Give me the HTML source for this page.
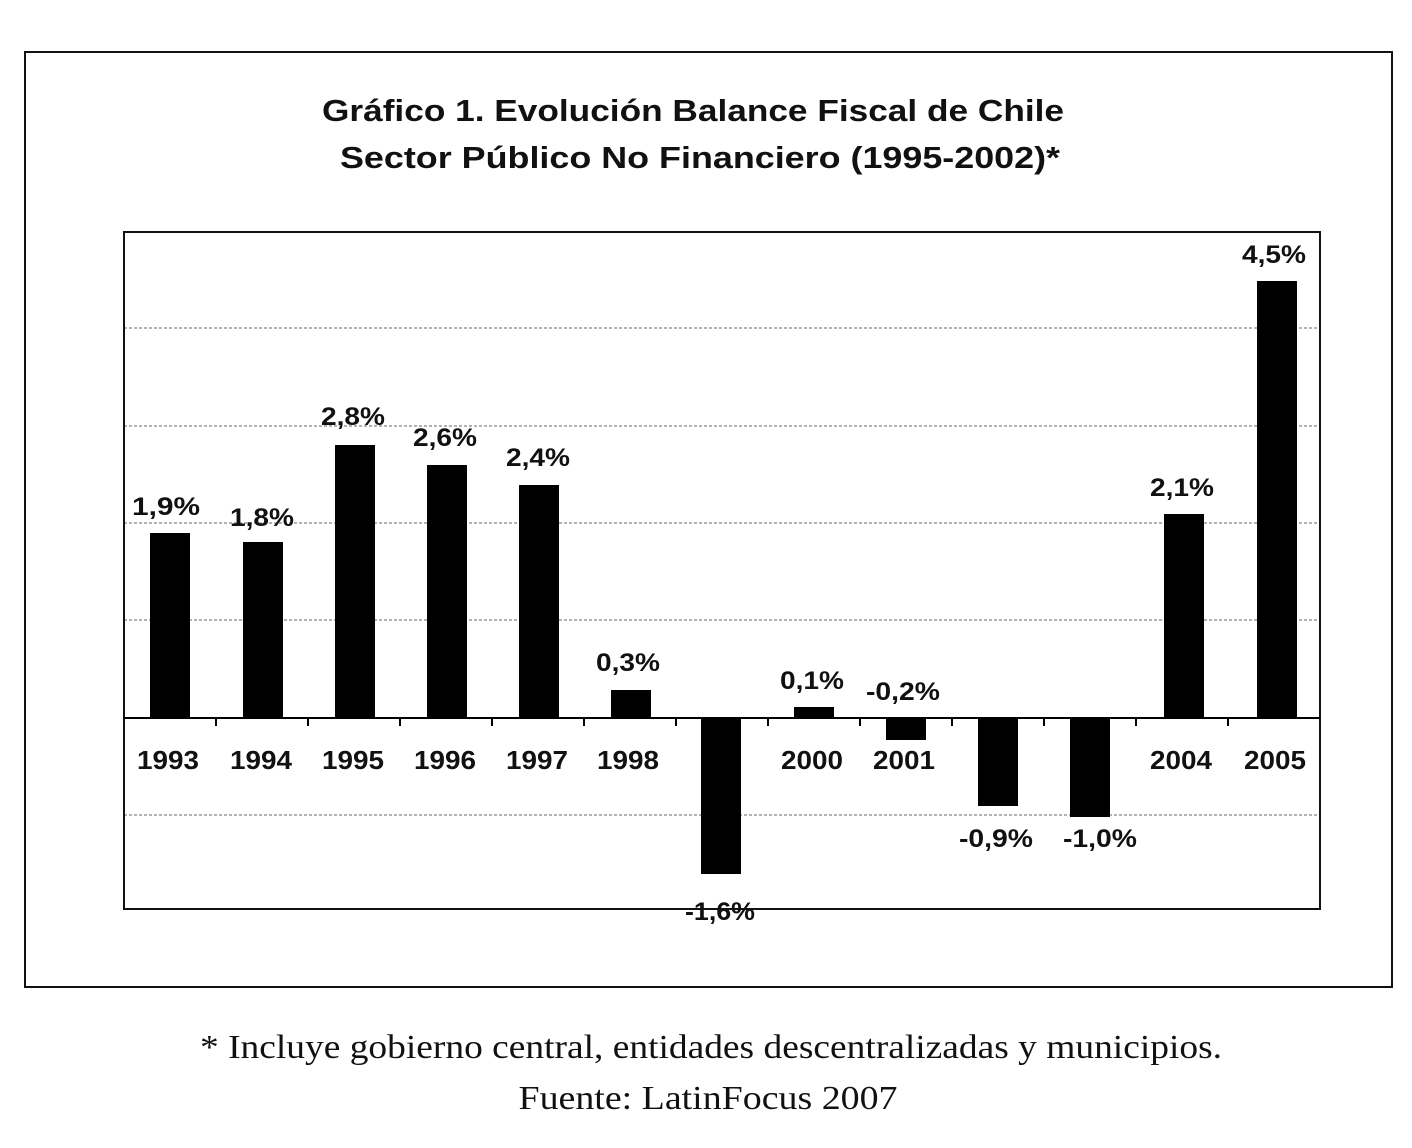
<!DOCTYPE html>
<html><head><meta charset="utf-8"><style>
html,body{margin:0;padding:0;background:#fff;}
</style></head><body>
<svg width="1412" height="1143" viewBox="0 0 1412 1143" xmlns="http://www.w3.org/2000/svg">
<rect x="0" y="0" width="1412" height="1143" fill="#fff"/>
<rect x="25" y="52" width="1367" height="935" fill="none" stroke="#111" stroke-width="2"/>
<g font-family="Liberation Sans, Arial, sans-serif" font-weight="bold" fill="#111" text-anchor="middle">
<text x="693" y="121" font-size="31" textLength="742" lengthAdjust="spacingAndGlyphs">Gráfico 1. Evolución Balance Fiscal de Chile</text>
<text x="700" y="168" font-size="31" textLength="720" lengthAdjust="spacingAndGlyphs">Sector Público No Financiero (1995-2002)*</text>
</g>
<g stroke="#666" stroke-width="1" stroke-dasharray="3,2">
<line x1="124" y1="328" x2="1320" y2="328"/>
<line x1="124" y1="426" x2="1320" y2="426"/>
<line x1="124" y1="523" x2="1320" y2="523"/>
<line x1="124" y1="620" x2="1320" y2="620"/>
<line x1="124" y1="815" x2="1320" y2="815"/>
</g>
<rect x="124" y="232" width="1196" height="677" fill="none" stroke="#111" stroke-width="2"/>
<g fill="#000">
<rect x="150" y="533" width="40" height="185"/>
<rect x="243" y="542" width="40" height="176"/>
<rect x="335" y="445" width="40" height="273"/>
<rect x="427" y="465" width="40" height="253"/>
<rect x="519" y="485" width="40" height="233"/>
<rect x="611" y="690" width="40" height="28"/>
<rect x="701" y="718" width="40" height="156"/>
<rect x="794" y="707" width="40" height="11"/>
<rect x="886" y="718" width="40" height="22"/>
<rect x="978" y="718" width="40" height="88"/>
<rect x="1070" y="718" width="40" height="99"/>
<rect x="1164" y="514" width="40" height="204"/>
<rect x="1257" y="281" width="40" height="437"/>
</g>
<line x1="124" y1="718" x2="1320" y2="718" stroke="#000" stroke-width="2"/>
<g stroke="#000" stroke-width="2">
<line x1="216" y1="718" x2="216" y2="726"/><line x1="308" y1="718" x2="308" y2="726"/>
<line x1="400" y1="718" x2="400" y2="726"/><line x1="492" y1="718" x2="492" y2="726"/>
<line x1="584" y1="718" x2="584" y2="726"/><line x1="676" y1="718" x2="676" y2="726"/>
<line x1="768" y1="718" x2="768" y2="726"/><line x1="860" y1="718" x2="860" y2="726"/>
<line x1="952" y1="718" x2="952" y2="726"/><line x1="1044" y1="718" x2="1044" y2="726"/>
<line x1="1136" y1="718" x2="1136" y2="726"/><line x1="1228" y1="718" x2="1228" y2="726"/>
</g>
<g font-family="Liberation Sans, Arial, sans-serif" font-weight="bold" fill="#111" text-anchor="middle" font-size="26">
<text x="168" y="769" textLength="62" lengthAdjust="spacingAndGlyphs">1993</text>
<text x="261" y="769" textLength="62" lengthAdjust="spacingAndGlyphs">1994</text>
<text x="353" y="769" textLength="62" lengthAdjust="spacingAndGlyphs">1995</text>
<text x="445" y="769" textLength="62" lengthAdjust="spacingAndGlyphs">1996</text>
<text x="537" y="769" textLength="62" lengthAdjust="spacingAndGlyphs">1997</text>
<text x="628" y="769" textLength="62" lengthAdjust="spacingAndGlyphs">1998</text>
<text x="812" y="769" textLength="62" lengthAdjust="spacingAndGlyphs">2000</text>
<text x="904" y="769" textLength="62" lengthAdjust="spacingAndGlyphs">2001</text>
<text x="1181" y="769" textLength="62" lengthAdjust="spacingAndGlyphs">2004</text>
<text x="1275" y="769" textLength="62" lengthAdjust="spacingAndGlyphs">2005</text>
</g>
<g font-family="Liberation Sans, Arial, sans-serif" font-weight="bold" fill="#111" text-anchor="middle" font-size="25">
<text x="166" y="515" textLength="68" lengthAdjust="spacingAndGlyphs">1,9%</text>
<text x="262" y="526" textLength="64" lengthAdjust="spacingAndGlyphs">1,8%</text>
<text x="353" y="425" textLength="64" lengthAdjust="spacingAndGlyphs">2,8%</text>
<text x="445" y="446" textLength="64" lengthAdjust="spacingAndGlyphs">2,6%</text>
<text x="538" y="466" textLength="64" lengthAdjust="spacingAndGlyphs">2,4%</text>
<text x="628" y="671" textLength="64" lengthAdjust="spacingAndGlyphs">0,3%</text>
<text x="720" y="920" textLength="70" lengthAdjust="spacingAndGlyphs">-1,6%</text>
<text x="812" y="689" textLength="64" lengthAdjust="spacingAndGlyphs">0,1%</text>
<text x="903" y="700" textLength="74" lengthAdjust="spacingAndGlyphs">-0,2%</text>
<text x="996" y="847" textLength="74" lengthAdjust="spacingAndGlyphs">-0,9%</text>
<text x="1100" y="847" textLength="74" lengthAdjust="spacingAndGlyphs">-1,0%</text>
<text x="1182" y="496" textLength="64" lengthAdjust="spacingAndGlyphs">2,1%</text>
<text x="1274" y="263" textLength="64" lengthAdjust="spacingAndGlyphs">4,5%</text>
</g>
<g font-family="Liberation Serif, Times New Roman, serif" fill="#111" text-anchor="middle" font-size="34">
<text x="711" y="1058" textLength="1022" lengthAdjust="spacingAndGlyphs">* Incluye gobierno central, entidades descentralizadas y municipios.</text>
<text x="708" y="1109" textLength="379" lengthAdjust="spacingAndGlyphs">Fuente: LatinFocus 2007</text>
</g>
</svg>
</body></html>
